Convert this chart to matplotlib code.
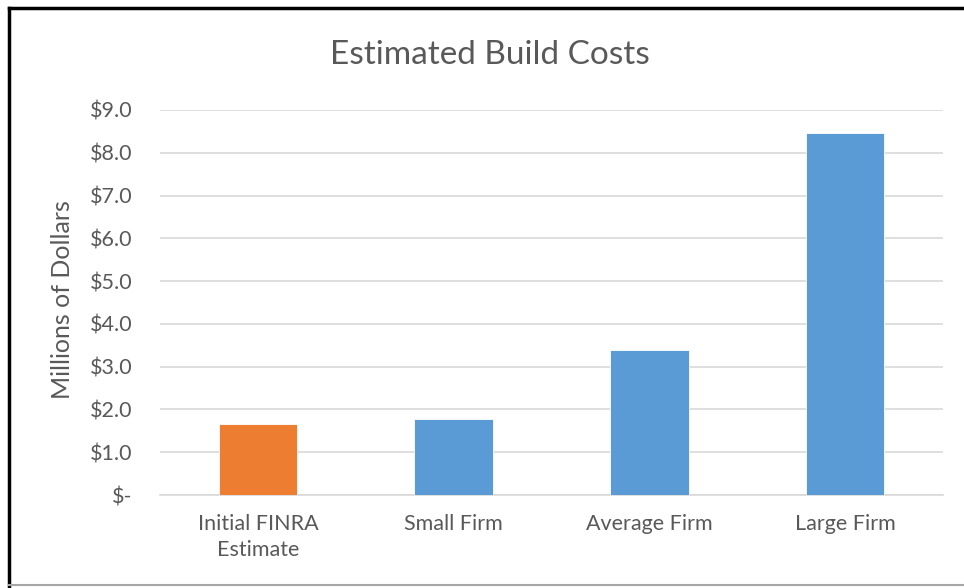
import matplotlib
matplotlib.use("Agg")
import matplotlib.pyplot as plt
from matplotlib.lines import Line2D

categories = ["Initial FINRA\nEstimate", "Small Firm", "Average Firm", "Large Firm"]
values = [1.66, 1.78, 3.39, 8.46]
colors = ["#ED7D31", "#5B9BD5", "#5B9BD5", "#5B9BD5"]
yticks = [0, 1, 2, 3, 4, 5, 6, 7, 8, 9]
ytick_labels = ["$-", "$1.0", "$2.0", "$3.0", "$4.0", "$5.0", "$6.0", "$7.0", "$8.0", "$9.0"]

plt.rcParams['font.family'] = ['Lato', 'DejaVu Sans']

W, H = 964, 588
fig = plt.figure(figsize=(W / 100, H / 100), dpi=100)
ax = fig.add_axes([160 / W, 1 - 495 / H, (943 - 160) / W, (495 - 110) / H])

ax.bar(range(len(values)), values, width=0.4, color=colors, edgecolor="white", linewidth=0.6, zorder=3)
ax.set_xlim(-0.5, 3.5)
ax.set_ylim(0, 9)
ax.set_yticks(yticks)
ax.set_yticklabels(ytick_labels)
ax.set_xticks(range(len(categories)))
ax.set_xticklabels(categories, linespacing=1.35)
ax.tick_params(axis='both', length=0, labelsize=15.5, colors="#595959")
ax.tick_params(axis='y', pad=20)
ax.tick_params(axis='x', pad=14)
ax.grid(axis='y', color="#D9D9D9", linewidth=1.2, zorder=0)
for s in ["top", "right", "left"]:
    ax.spines[s].set_visible(False)
ax.spines["bottom"].set_color("#D9D9D9")
ax.spines["bottom"].set_linewidth(1.2)
ax.set_ylabel("Millions of Dollars", fontsize=18, color="#595959", va="center")
ax.yaxis.set_label_coords((62 - 160) / 783, (495 - 300) / 385)

fig.text(490 / W, 1 - 55 / H, "Estimated Build Costs", ha="center", va="center", fontsize=24, color="#595959")

# frame
fig.add_artist(Line2D([9 / W, 9 / W], [1 - 8 / H, 1 - 586 / H], color="black", linewidth=2.5, transform=fig.transFigure))
fig.add_artist(Line2D([9 / W, 1], [1 - 8 / H, 1 - 8 / H], color="black", linewidth=2.5, transform=fig.transFigure))
fig.add_artist(Line2D([9 / W, 1], [1 - 585 / H, 1 - 585 / H], color="#A6A6A6", linewidth=1.5, transform=fig.transFigure))

fig.savefig("out.png", dpi=100)
